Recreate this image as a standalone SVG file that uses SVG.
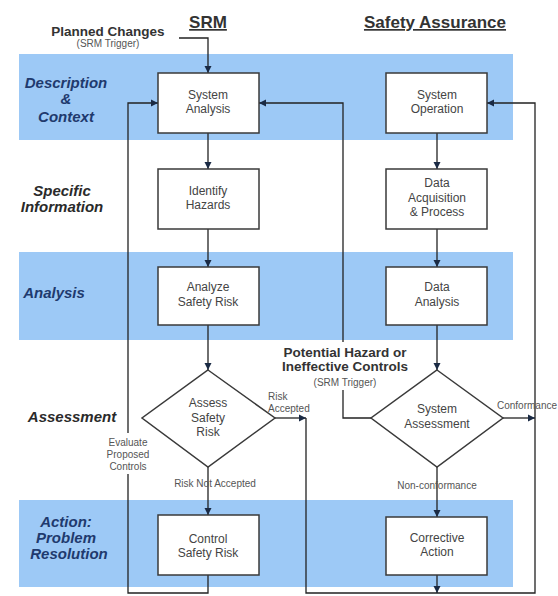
<svg xmlns="http://www.w3.org/2000/svg" width="558" height="596" viewBox="0 0 558 596">
<style>
.band{fill:#9DC9F6}
.box{fill:#fff;stroke:#3a3a3a;stroke-width:1.5}
.bt{font-family:"Liberation Sans",Arial,sans-serif;font-size:12px;fill:#444;text-anchor:middle}
.lab{font-family:"Liberation Sans",Arial,sans-serif;font-size:15px;font-weight:bold;font-style:italic;text-anchor:middle}
.navy{fill:#1F3A6E}
.dark{fill:#2a2a2a}
.sm{font-family:"Liberation Sans",Arial,sans-serif;font-size:10px;fill:#555}
.ttl{font-family:"Liberation Sans",Arial,sans-serif;font-size:17px;font-weight:bold;fill:#333;text-anchor:middle;text-decoration:underline}
.bold{font-family:"Liberation Sans",Arial,sans-serif;font-weight:bold;fill:#333;text-anchor:middle}
.ln{fill:none;stroke:#222;stroke-width:1.3}
</style>
<defs>
<marker id="ah" markerWidth="8" markerHeight="8" refX="7" refY="4" orient="auto" markerUnits="userSpaceOnUse">
<path d="M0,0.5 L7,4 L0,7.5 Z" fill="#1a2a44"/>
</marker>
</defs>
<rect width="558" height="596" fill="#fff"/>
<g id="bands">
<rect class="band" x="19" y="54" width="494" height="86"/>
<rect class="band" x="19" y="252" width="494" height="88"/>
<rect class="band" x="19" y="500" width="494" height="87"/>
</g>
<g id="titles">
<text class="ttl" x="208" y="28">SRM</text>
<text class="ttl" x="435" y="28">Safety Assurance</text>
<text class="bold" x="108" y="36" font-size="13.5">Planned Changes</text>
<text class="sm" x="108" y="47" text-anchor="middle">(SRM Trigger)</text>
</g>
<g id="row-labels">
<text class="lab navy" x="66" y="88">Description</text>
<text class="lab navy" x="66" y="104">&amp;</text>
<text class="lab navy" x="66" y="122">Context</text>
<text class="lab dark" x="62" y="196" font-size="14">Specific</text>
<text class="lab dark" x="62" y="212" font-size="14">Information</text>
<text class="lab navy" x="54" y="298">Analysis</text>
<text class="lab dark" x="72" y="422">Assessment</text>
<text class="lab navy" x="66" y="527" font-size="13">Action:</text>
<text class="lab navy" x="66" y="543" font-size="13">Problem</text>
<text class="lab navy" x="69" y="559" font-size="13">Resolution</text>
</g>
<g id="connectors">
<polyline class="ln" points="179,38 208,38 208,73" marker-end="url(#ah)"/>
<line class="ln" x1="208" y1="133" x2="208" y2="169" marker-end="url(#ah)"/>
<line class="ln" x1="208" y1="229" x2="208" y2="267" marker-end="url(#ah)"/>
<line class="ln" x1="208" y1="325" x2="208" y2="370" marker-end="url(#ah)"/>
<line class="ln" x1="208" y1="467" x2="208" y2="515" marker-end="url(#ah)"/>
<polyline class="ln" points="208,575 208,593 128,593 128,103 158,103" marker-end="url(#ah)"/>
<line class="ln" x1="275" y1="418" x2="306" y2="418" marker-end="url(#ah)"/>
<polyline class="ln" points="306,418 306,593 535,593 535,103 487,103" marker-end="url(#ah)"/>
<line class="ln" x1="437" y1="575" x2="437" y2="593" marker-end="url(#ah)"/>
<line class="ln" x1="503" y1="418" x2="535" y2="418" marker-end="url(#ah)"/>
<polyline class="ln" points="371,418 343,418 343,103 259,103" marker-end="url(#ah)"/>
<line class="ln" x1="437" y1="133" x2="437" y2="169" marker-end="url(#ah)"/>
<line class="ln" x1="437" y1="229" x2="437" y2="267" marker-end="url(#ah)"/>
<line class="ln" x1="437" y1="325" x2="437" y2="370" marker-end="url(#ah)"/>
<line class="ln" x1="437" y1="467" x2="437" y2="517" marker-end="url(#ah)"/>
</g>
<g id="connector-labels">
<rect x="278" y="342" width="134" height="48" fill="#fff"/>
<text class="bold" x="345" y="357" font-size="13.5">Potential Hazard or</text>
<text class="bold" x="345" y="371" font-size="13.5">Ineffective Controls</text>
<text class="sm" x="345" y="386" text-anchor="middle">(SRM Trigger)</text>
<rect x="103" y="433" width="50" height="41" fill="#fff"/>
<text class="sm" x="128" y="446" text-anchor="middle">Evaluate</text>
<text class="sm" x="128" y="458" text-anchor="middle">Proposed</text>
<text class="sm" x="128" y="470" text-anchor="middle">Controls</text>
<text class="sm" x="268" y="400">Risk</text>
<text class="sm" x="268" y="412">Accepted</text>
<text class="sm" x="215" y="487" text-anchor="middle">Risk Not Accepted</text>
<text class="sm" x="437" y="489" text-anchor="middle">Non-conformance</text>
<text class="sm" x="497" y="409" font-size="8.5">Conformance</text>
</g>
<g id="system-analysis"><rect class="box" x="158" y="73" width="101" height="60"/><text class="bt" x="208" y="99">System</text><text class="bt" x="208" y="113">Analysis</text></g>
<g id="system-operation"><rect class="box" x="386" y="73" width="101" height="60"/><text class="bt" x="437" y="99">System</text><text class="bt" x="437" y="113">Operation</text></g>
<g id="identify-hazards"><rect class="box" x="158" y="169" width="101" height="60"/><text class="bt" x="208" y="195">Identify</text><text class="bt" x="208" y="209">Hazards</text></g>
<g id="data-acquisition"><rect class="box" x="386" y="169" width="101" height="60"/><text class="bt" x="437" y="187">Data</text><text class="bt" x="437" y="202">Acquisition</text><text class="bt" x="437" y="216">&amp; Process</text></g>
<g id="analyze-safety-risk"><rect class="box" x="158" y="267" width="101" height="58"/><text class="bt" x="208" y="291">Analyze</text><text class="bt" x="208" y="306">Safety Risk</text></g>
<g id="data-analysis"><rect class="box" x="386" y="267" width="101" height="58"/><text class="bt" x="437" y="291">Data</text><text class="bt" x="437" y="306">Analysis</text></g>
<g id="assess-safety-risk"><polygon class="box" points="208,370 275,418 208,467 142,418"/><text class="bt" x="208" y="407">Assess</text><text class="bt" x="208" y="422">Safety</text><text class="bt" x="208" y="436">Risk</text></g>
<g id="system-assessment"><polygon class="box" points="437,370 503,418 437,467 371,418"/><text class="bt" x="437" y="413">System</text><text class="bt" x="437" y="428">Assessment</text></g>
<g id="control-safety-risk"><rect class="box" x="158" y="515" width="101" height="60"/><text class="bt" x="208" y="543">Control</text><text class="bt" x="208" y="557">Safety Risk</text></g>
<g id="corrective-action"><rect class="box" x="386" y="517" width="101" height="58"/><text class="bt" x="437" y="542">Corrective</text><text class="bt" x="437" y="556">Action</text></g>
</svg>
